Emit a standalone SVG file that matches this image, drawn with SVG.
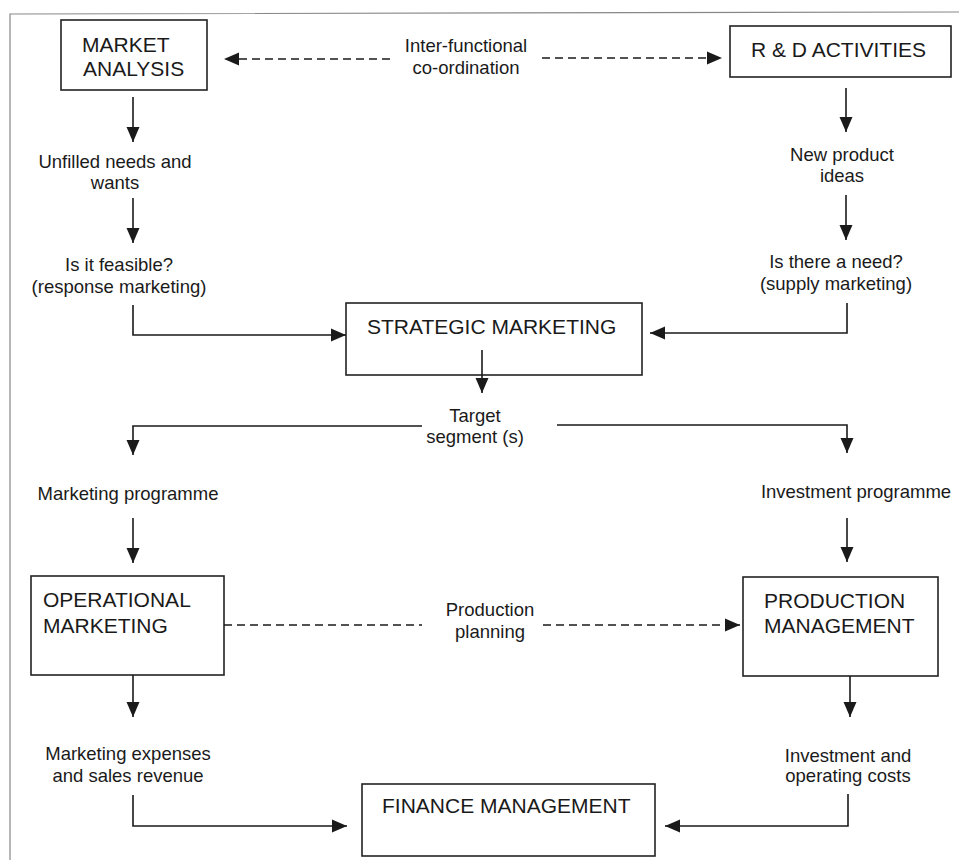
<svg xmlns="http://www.w3.org/2000/svg" width="959" height="860" viewBox="0 0 959 860">
<style>
  .box{fill:#fff;stroke:#222;stroke-width:1.6}
  .bt{font-family:"Liberation Sans",Arial,sans-serif;font-size:21px;fill:#1a1a1a}
  .lt{font-family:"Liberation Sans",Arial,sans-serif;font-size:18.5px;fill:#1a1a1a;text-anchor:middle}
  .c{fill:none;stroke:#1a1a1a;stroke-width:1.6}
  .d{fill:none;stroke:#1a1a1a;stroke-width:1.6;stroke-dasharray:8,5}
  .frame{fill:none;stroke:#888;stroke-width:1.2}
</style>
<defs>
  <marker id="ah" markerUnits="userSpaceOnUse" markerWidth="16" markerHeight="14" refX="15" refY="7" orient="auto">
    <path d="M0,0.5 L15,7 L0,13.5 Z" fill="#1a1a1a"/>
  </marker>
</defs>
<rect width="959" height="860" fill="#fff"/>
<path class="frame" d="M10,860 L10,14 L959,12"/>

<g id="market-analysis">
  <rect class="box" x="61" y="20" width="146" height="70"/>
  <text class="bt" x="82" y="52">MARKET</text>
  <text class="bt" x="83" y="76">ANALYSIS</text>
</g>
<g id="rd-activities">
  <rect class="box" x="730" y="26" width="221" height="51"/>
  <text class="bt" x="751" y="57">R &amp; D ACTIVITIES</text>
</g>
<g id="strategic-marketing">
  <rect class="box" x="346" y="303" width="296" height="72"/>
  <text class="bt" x="367" y="334">STRATEGIC MARKETING</text>
</g>
<g id="operational-marketing">
  <rect class="box" x="31" y="576" width="193" height="99"/>
  <text class="bt" x="43" y="607">OPERATIONAL</text>
  <text class="bt" x="43" y="633">MARKETING</text>
</g>
<g id="production-management">
  <rect class="box" x="743" y="577" width="195" height="99"/>
  <text class="bt" x="764" y="608">PRODUCTION</text>
  <text class="bt" x="764" y="633">MANAGEMENT</text>
</g>
<g id="finance-management">
  <rect class="box" x="362" y="784" width="293" height="72"/>
  <text class="bt" x="382" y="813">FINANCE MANAGEMENT</text>
</g>

<g id="labels">
  <text class="lt" x="466" y="52">Inter-functional</text>
  <text class="lt" x="466" y="74">co-ordination</text>
  <text class="lt" x="115" y="168">Unfilled needs and</text>
  <text class="lt" x="115" y="189">wants</text>
  <text class="lt" x="119" y="271">Is it feasible?</text>
  <text class="lt" x="119" y="293">(response marketing)</text>
  <text class="lt" x="842" y="161">New product</text>
  <text class="lt" x="842" y="182">ideas</text>
  <text class="lt" x="836" y="268">Is there a need?</text>
  <text class="lt" x="836" y="290">(supply marketing)</text>
  <text class="lt" x="475" y="422">Target</text>
  <text class="lt" x="475" y="443">segment (s)</text>
  <text class="lt" x="128" y="500">Marketing programme</text>
  <text class="lt" x="856" y="498">Investment programme</text>
  <text class="lt" x="490" y="616">Production</text>
  <text class="lt" x="490" y="638">planning</text>
  <text class="lt" x="128" y="760">Marketing expenses</text>
  <text class="lt" x="128" y="782">and sales revenue</text>
  <text class="lt" x="848" y="762">Investment and</text>
  <text class="lt" x="848" y="782">operating costs</text>
</g>

<g id="connectors">
  <path class="d" d="M390,59 L224,59" marker-end="url(#ah)"/>
  <path class="d" d="M542,58 L722,58" marker-end="url(#ah)"/>
  <path class="c" d="M133,97 L133,142" marker-end="url(#ah)"/>
  <path class="c" d="M133,198 L133,243" marker-end="url(#ah)"/>
  <path class="c" d="M846,88 L846,132" marker-end="url(#ah)"/>
  <path class="c" d="M846,195 L846,240" marker-end="url(#ah)"/>
  <path class="c" d="M133,305 L133,335 L346,335" marker-end="url(#ah)"/>
  <path class="c" d="M847,303 L847,333 L650,333" marker-end="url(#ah)"/>
  <path class="c" d="M482,350 L482,393" marker-end="url(#ah)"/>
  <path class="c" d="M422,426 L133,426 L133,455" marker-end="url(#ah)"/>
  <path class="c" d="M557,425 L847,425 L847,453" marker-end="url(#ah)"/>
  <path class="c" d="M133,518 L133,563" marker-end="url(#ah)"/>
  <path class="c" d="M847,518 L847,562" marker-end="url(#ah)"/>
  <path class="d" d="M224,625 L422,625"/>
  <path class="d" d="M543,625 L740,625" marker-end="url(#ah)"/>
  <path class="c" d="M133,675 L133,717" marker-end="url(#ah)"/>
  <path class="c" d="M850,676 L850,717" marker-end="url(#ah)"/>
  <path class="c" d="M133,795 L133,826 L347,826" marker-end="url(#ah)"/>
  <path class="c" d="M848,794 L848,826 L665,826" marker-end="url(#ah)"/>
</g>
</svg>
